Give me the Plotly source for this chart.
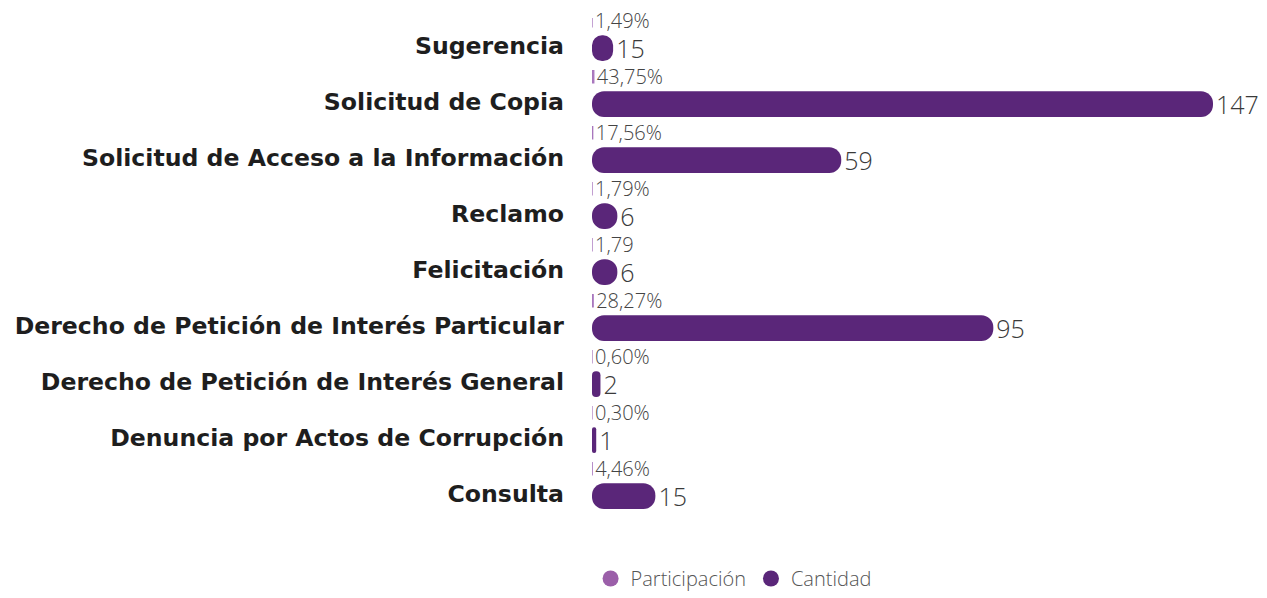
import plotly.graph_objects as go

# Data (top to bottom as shown)
categorias = [
    "Sugerencia",
    "Solicitud de Copia",
    "Solicitud de Acceso a la Información",
    "Reclamo",
    "Felicitación",
    "Derecho de Petición de Interés Particular",
    "Derecho de Petición de Interés General",
    "Denuncia por Actos de Corrupción",
    "Consulta",
]
cantidad = [5, 147, 59, 6, 6, 95, 2, 1, 15]
cantidad_labels = ["15", "147", "59", "6", "6", "95", "2", "1", "15"]
participacion = [0.0149, 0.4375, 0.1756, 0.0179, 0.0179, 0.2827, 0.0060, 0.0030, 0.0446]
participacion_labels = ["1,49%", "43,75%", "17,56%", "1,79%", "1,79", "28,27%", "0,60%", "0,30%", "4,46%"]

DARK = "#5a2679"
LIGHT = "#a876bd"
LEG_LIGHT = "#9b5fa9"
FONT = "Open Sans"
LABEL_FONT = "DejaVu Sans"

fig = go.Figure()

# Cantidad (pill-shaped bars)
fig.add_trace(go.Bar(
    y=categorias, x=cantidad, base=[0] * len(cantidad), orientation="h",
    marker=dict(color=DARK, cornerradius="50%", line=dict(width=0)),
    width=0.46, offset=-0.19, showlegend=False,
    text=cantidad_labels, textposition="outside", constraintext="none",
    textfont=dict(family=FONT, size=25, color="#3a3a3a", weight=300),
    cliponaxis=False,
))
# Participación: thin bars
fig.add_trace(go.Bar(
    y=categorias, x=participacion, orientation="h",
    marker=dict(color=LIGHT, line=dict(color=LIGHT, width=1.2)),
    width=0.22, offset=-0.56, showlegend=False,
    text=participacion_labels, textposition="outside", constraintext="none",
    textfont=dict(family=FONT, size=20, color="#444444", weight=300),
    cliponaxis=False,
))

# Legend entries (circles)
fig.add_trace(go.Scatter(
    x=[None], y=[None], mode="markers", name="Participación",
    marker=dict(color=LEG_LIGHT, size=17, symbol="circle"),
))
fig.add_trace(go.Scatter(
    x=[None], y=[None], mode="markers", name="Cantidad",
    marker=dict(color=DARK, size=17, symbol="circle"),
))

fig.update_layout(
    width=1251, height=590,
    margin=dict(l=584, r=46, t=10, b=76),
    barmode="overlay",
    plot_bgcolor="white", paper_bgcolor="white",
    font=dict(family=FONT, color="#222222"),
    legend=dict(
        orientation="h", xref="container", x=0.58, xanchor="center",
        yref="container", y=-0.035, yanchor="bottom",
        font=dict(family=FONT, size=20, color="#555555", weight=300),
        itemwidth=30,
    ),
    xaxis=dict(range=[0, 147], visible=False, showgrid=False, zeroline=False,
               automargin=False),
    yaxis=dict(
        type="category", categoryorder="array", categoryarray=categorias,
        range=[8.5, -0.5], showgrid=False, zeroline=False, showline=False,
        ticks="", ticklabelstandoff=27, automargin=False,
        tickfont=dict(family=LABEL_FONT, size=23.6, color="#1e1e1e", weight="bold"),
    ),
)

fig.write_html("out.html")
